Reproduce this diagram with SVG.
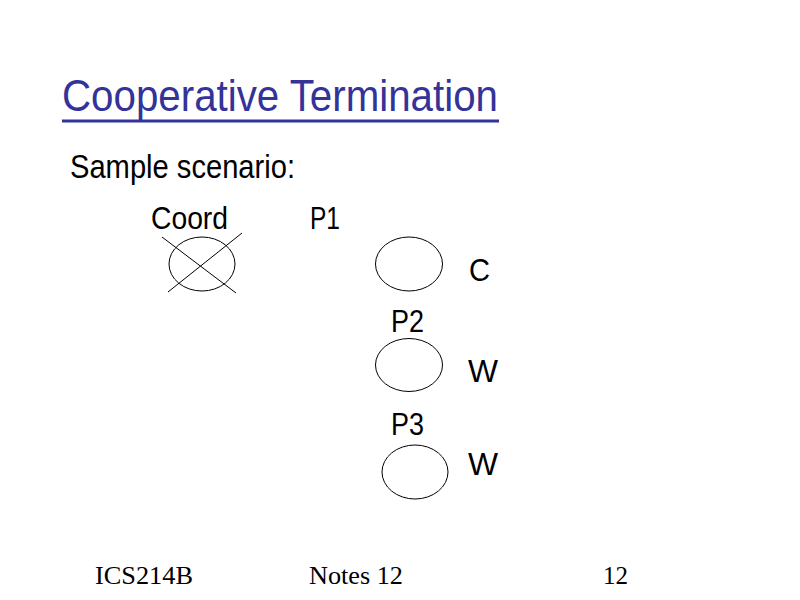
<svg xmlns="http://www.w3.org/2000/svg" width="800" height="600" viewBox="0 0 800 600">
<style>
.t{font-family:"Liberation Sans Narrow","Liberation Sans",Arial,sans-serif;fill:#000}
.f{font-family:"Liberation Serif","Times New Roman",serif;font-size:26px;fill:#000}
.node{fill:none;stroke:#000;stroke-width:1}
</style>
<rect width="800" height="600" fill="#fff"/>
<g id="title">
<text class="t" x="62" y="111" font-size="44" fill="#333399" style="fill:#333399" textLength="436" lengthAdjust="spacingAndGlyphs">Cooperative Termination</text>
<rect x="62" y="119.5" width="437" height="3" fill="#333399"/>
</g>
<text class="t" x="70" y="178" font-size="33" textLength="225" lengthAdjust="spacingAndGlyphs">Sample scenario:</text>
<g id="coord">
<text class="t" x="151" y="229" font-size="32" textLength="77" lengthAdjust="spacingAndGlyphs">Coord</text>
<ellipse class="node" cx="202" cy="264" rx="33" ry="27"/>
<line class="node" x1="162" y1="237" x2="236" y2="293"/>
<line class="node" x1="242" y1="233" x2="168" y2="292"/>
</g>
<g id="p1">
<text class="t" x="310" y="229" font-size="32" textLength="30" lengthAdjust="spacingAndGlyphs">P1</text>
<ellipse class="node" cx="409" cy="264" rx="33.5" ry="27"/>
<text class="t" x="469" y="281" font-size="32" textLength="21" lengthAdjust="spacingAndGlyphs">C</text>
</g>
<g id="p2">
<text class="t" x="391" y="332" font-size="32" textLength="33" lengthAdjust="spacingAndGlyphs">P2</text>
<ellipse class="node" cx="409" cy="365" rx="33.5" ry="26.5"/>
<text class="t" x="468" y="382" font-size="32" textLength="30" lengthAdjust="spacingAndGlyphs">W</text>
</g>
<g id="p3">
<text class="t" x="391" y="435" font-size="32" textLength="33" lengthAdjust="spacingAndGlyphs">P3</text>
<ellipse class="node" cx="415" cy="472" rx="33" ry="27"/>
<text class="t" x="468" y="475" font-size="32" textLength="30" lengthAdjust="spacingAndGlyphs">W</text>
</g>
<g id="connectors"></g>
<g id="footer">
<text class="f" x="95" y="584" textLength="98" lengthAdjust="spacingAndGlyphs">ICS214B</text>
<text class="f" x="309" y="584" textLength="94" lengthAdjust="spacingAndGlyphs">Notes 12</text>
<text class="f" x="603" y="584" textLength="25" lengthAdjust="spacingAndGlyphs">12</text>
</g>
</svg>
